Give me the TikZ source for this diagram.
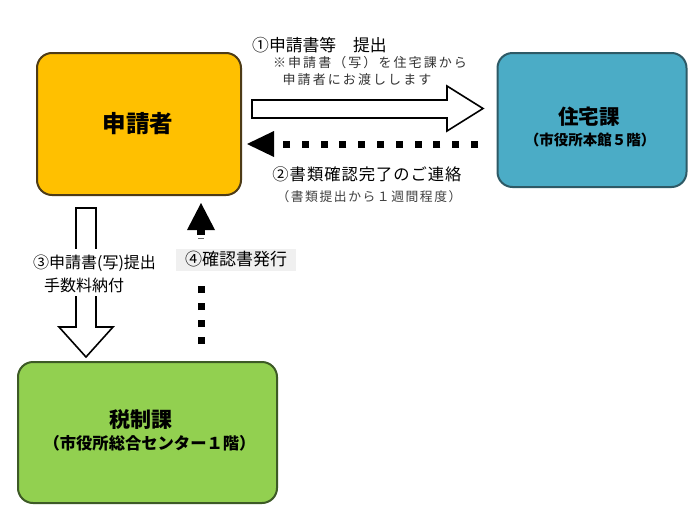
\documentclass[tikz,border=0pt]{standalone}
\usepackage{fontspec}
\setmainfont{Noto Sans CJK JP}
\newfontfamily\spacedfont[LetterSpace=16]{Noto Sans CJK JP}
\newfontfamily\spacedfontb[LetterSpace=6]{Noto Sans CJK JP}
\newfontfamily\spacedfontc[LetterSpace=12]{Noto Sans CJK JP}
\definecolor{appfill}{HTML}{FFC000}
\definecolor{appline}{HTML}{4D3B17}
\definecolor{housefill}{HTML}{4BACC6}
\definecolor{houseline}{HTML}{2E5A66}
\definecolor{taxfill}{HTML}{92D050}
\definecolor{taxline}{HTML}{3D5A26}
\definecolor{labelbg}{HTML}{F0F0F0}
\tikzset{
  box/.style={draw, line width=2pt, rounded corners=15pt, inner sep=0pt},
  boxtext/.style={inner sep=0pt, font=\bfseries},
  hollow/.style={draw=black, line width=1.6pt, fill=white, line join=miter},
  dots/.style={line width=7pt, dash pattern=on 7pt off 11.8pt},
  head/.style={fill=black, draw=none},
}
\begin{document}
\begin{tikzpicture}[x=1pt,y=-1pt]
\useasboundingbox (0,0) rectangle (700,525);
\fill[white] (0,0) rectangle (700,525);
% boxes
\node[box, draw=appline, fill=appfill, minimum width=204pt, minimum height=142pt] (app) at (139,124) {};
\node[boxtext] (appt) at (138,124) {\fontsize{23.5}{28}\selectfont\bfseries 申請者};
\node[box, draw=houseline, fill=housefill, minimum width=189pt, minimum height=134pt] (house) at (592,120) {};
\node[boxtext] (houset1) at (589,117) {\fontsize{20.5}{24}\selectfont\bfseries 住宅課};
\node[boxtext] (houset2) at (590,140) {\fontsize{14.5}{17}\selectfont\bfseries （市役所本館５階）};
\node[box, draw=taxline, fill=taxfill, minimum width=259pt, minimum height=141pt] (tax) at (147.5,432.5) {};
\node[boxtext] (taxt1) at (141,420) {\fontsize{21}{25}\selectfont\bfseries 税制課};
\node[boxtext] (taxt2) at (149.5,443) {\fontsize{16.3}{19}\selectfont\bfseries （市役所総合センター１階）};
% (1) hollow right arrow
\draw[hollow] (252,100) -- (447,100) -- (447,86) -- (483,108.5) -- (447,131) -- (447,118) -- (252,118) -- cycle;
\node[anchor=west, inner sep=0pt] (t1) at (252,45) {\fontsize{16.8}{19}\selectfont ①申請書等　提出};
\node[inner sep=0pt, text=black!80] (t1b) at (370,63)
  {\fontsize{13}{15}\selectfont\spacedfont ※申請書（写）を住宅課から};
\node[inner sep=0pt, text=black!80] (t1c) at (357,80)
  {\fontsize{13}{15}\selectfont\spacedfont 申請者にお渡しします};
% (2) dotted left arrow
\coordinate (d2s) at (478,144);
\coordinate (d2e) at (278,144);
\draw[dots] (d2s) -- (d2e);
\fill[head] (247,144) -- (274,131) -- (274,157) -- cycle;
\node[inner sep=0pt] (t2) at (367,174) {\fontsize{16.3}{19}\selectfont\spacedfontb ②書類確認完了のご連絡};
\node[inner sep=0pt, text=black!75] (t2b) at (369,197) {\fontsize{12.8}{15}\selectfont\spacedfontc （書類提出から１週間程度）};
% (3) hollow down arrow
\draw[hollow] (76,208) -- (96,208) -- (96,327) -- (113,327) -- (86,357) -- (59,327) -- (76,327) -- cycle;
\fill[white] (70,249) rectangle (102,296);
\node[inner sep=0pt] (t3) at (94.5,263) {\fontsize{16}{19}\selectfont ③申請書(写)提出};
\node[inner sep=0pt] (t3b) at (84,285) {\fontsize{16}{19}\selectfont 手数料納付};
% (4) dotted up arrow
\fill[head] (201,203) -- (187,230) -- (215,230) -- cycle;
\fill[black] (197,229) rectangle (205,235);
\draw[black!60, line width=1pt] (198,238.5) -- (204,238.5);
\node[fill=labelbg, inner sep=0pt, minimum width=120pt, minimum height=22pt] (t4) at (236,259.5)
  {\fontsize{17}{20}\selectfont ④確認書発行};
\coordinate (d4s) at (201,344);
\coordinate (d4e) at (201,283);
\draw[line width=7pt, dash pattern=on 7pt off 10pt] (d4s) -- (d4e);
\end{tikzpicture}
\end{document}
